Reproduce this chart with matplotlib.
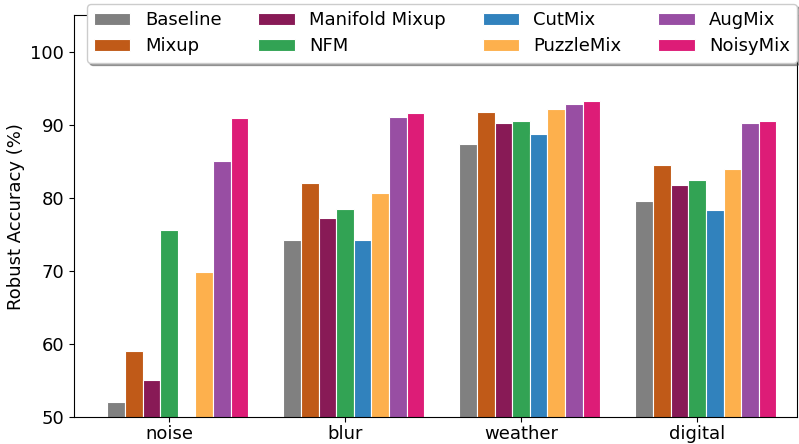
import numpy as np
import matplotlib
matplotlib.use("Agg")
import matplotlib.pyplot as plt

categories = ["noise", "blur", "weather", "digital"]
methods = ["Baseline", "Mixup", "Manifold Mixup", "NFM",
           "CutMix", "PuzzleMix", "AugMix", "NoisyMix"]
colors = ["#808080", "#c05a18", "#881a56", "#32a354",
          "#3182bd", "#fdb04d", "#984ea3", "#dd1c77"]

baseline = [52.1, 74.2, 87.4, 79.6]
mixup = [59.1, 82.0, 91.8, 84.5]
manifold_mixup = [55.1, 77.3, 90.3, 81.7]
nfm = [75.6, 78.5, 90.5, 82.5]
cutmix = [45.0, 74.2, 88.8, 78.4]
puzzlemix = [69.9, 80.6, 92.2, 83.9]
augmix = [85.0, 91.1, 92.8, 90.3]
noisymix = [90.9, 91.6, 93.2, 90.5]

series = [baseline, mixup, manifold_mixup, nfm,
          cutmix, puzzlemix, augmix, noisymix]

plt.rcParams["font.family"] = ["DejaVu Sans"]
plt.rcParams["font.size"] = 13

fig = plt.figure(figsize=(7.99, 4.44), dpi=100)
ax = fig.add_axes([0.0926, 0.0608, 0.905, 0.905])

x = np.arange(len(categories))
width = 0.1
for i, (name, vals, col) in enumerate(zip(methods, series, colors)):
    ax.bar(x + (i - 3) * width, vals, width, label=name, color=col,
           edgecolor="white", linewidth=0.8)

ax.set_xticks(x)
ax.set_xticklabels(categories)
ax.set_ylim(50, 105)
ax.set_xlim(-0.54, 3.568)
ax.set_yticks([50, 60, 70, 80, 90, 100])
ax.set_ylabel("Robust Accuracy (%)")
ax.tick_params(labelsize=13)
ax.tick_params(axis="x", pad=2.5)

ax.legend(loc="upper center", bbox_to_anchor=(0.509, 1.05), ncol=4,
          fontsize=13, frameon=True, shadow=True, fancybox=True,
          columnspacing=2.05, handlelength=2.0, labelspacing=0.45)

fig.savefig("out.png", dpi=100)
